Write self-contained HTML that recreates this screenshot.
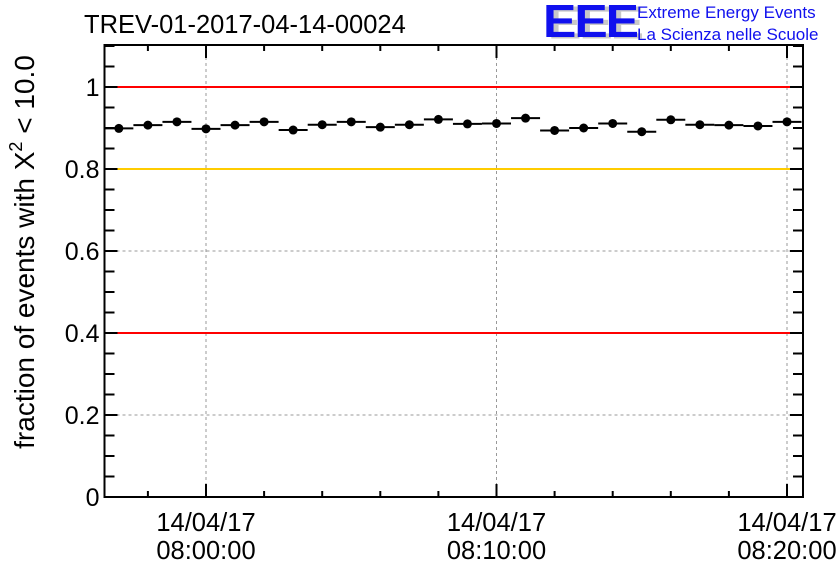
<!DOCTYPE html>
<html><head><meta charset="utf-8"><style>
body{margin:0;background:#fff;}
svg{display:block;font-family:"Liberation Sans",sans-serif;}
</style></head><body>
<svg id="chart" width="836" height="572" viewBox="0 0 836 572">
<rect width="836" height="572" fill="#fff"/>
<text x="84" y="33" font-size="25.5" fill="#000">TREV-01-2017-04-14-00024</text>
<g>
<text x="548" y="42" font-size="50" font-weight="bold" fill="#c8c8c8" letter-spacing="-2" transform="scale(1,0.92)">EEE</text>
<text x="543" y="40" font-size="50" font-weight="bold" fill="#1010ee" letter-spacing="-2" transform="scale(1,0.92)">EEE</text>
<text x="637" y="18" font-size="17" fill="#1010ee">Extreme Energy Events</text>
<text x="637" y="40" font-size="17" fill="#1010ee">La Scienza nelle Scuole</text>
</g>
<text transform="translate(34,252) rotate(-90)" text-anchor="middle" font-size="28" fill="#000">fraction of events with X<tspan dy="-12" font-size="18">2</tspan><tspan dy="12"> &lt; 10.0</tspan></text>
<g id="plot"></g>
</svg>
<script>
const minutes=[-3,-2,-1,0,1,2,3,4,5,6,7,8,9,10,11,12,13,14,15,16,17,18,19,20];
const fractions=[0.899,0.907,0.915,0.898,0.907,0.915,0.895,0.908,0.915,0.902,0.908,0.921,0.910,0.911,0.924,0.894,0.900,0.911,0.891,0.920,0.908,0.907,0.905,0.915];
const yTicks=[0,0.2,0.4,0.6,0.8,1];
const yTickLabels=["0","0.2","0.4","0.6","0.8","1"];
const xMajor=[0,10,20];
const xLabels=["08:00:00","08:10:00","08:20:00"];
const refLines=[1.0,0.8,0.4];
const refColors=["#ff0000","#ffcc00","#ff0000"];

const L=104.5,R=803,T=45,B=497;
const xs=m=>206+m*29.05;
const ys=v=>B-v*410;
const NS="http://www.w3.org/2000/svg";
const g=document.getElementById('plot');
function mk(tag,attrs,parent){const e=document.createElementNS(NS,tag);for(const k in attrs)e.setAttribute(k,attrs[k]);(parent||g).appendChild(e);return e;}

yTicks.slice(1,-1).forEach(v=>{
  if(refLines.includes(v))return;
  const l=mk('line',{x1:L,x2:R,y1:ys(v),y2:ys(v),stroke:'#999','stroke-dasharray':'3,3','stroke-width':1});
  
  
});
xMajor.forEach(m=>{
  const l=mk('line',{x1:xs(m),x2:xs(m),y1:T,y2:B,stroke:'#999','stroke-dasharray':'3,3','stroke-width':1});
  
  
});
refLines.forEach((v,i)=>{
  const l=mk('line',{x1:L,x2:R,y1:ys(v),y2:ys(v),stroke:refColors[i],'stroke-width':2});
  
  
});
minutes.forEach((m,i)=>{
  const x=xs(m),y=ys(fractions[i]);
  const e=mk('line',{x1:x-14.5,x2:x+14.5,y1:y,y2:y,stroke:'#000','stroke-width':2});
  
  
  const c=mk('circle',{cx:x,cy:y,r:4.5,fill:'#000'});
  
  
});
const f=mk('rect',{x:L,y:T,width:R-L,height:B-T,fill:'none',stroke:'#000','stroke-width':2});


for(let k=0;k<=22;k++){
  const v=k*0.05,y=ys(v);
  const len=(k%4===0)?13:10;
  mk('line',{x1:L,x2:L+len,y1:y,y2:y,stroke:'#000','stroke-width':2});
  mk('line',{x1:R,x2:R-len,y1:y,y2:y,stroke:'#000','stroke-width':2});
}
yTicks.forEach((v,i)=>{
  const t=mk('text',{x:L-5,y:ys(v)+9,'text-anchor':'end','font-size':25,fill:'#000'});
  t.textContent=yTickLabels[i];
  
  
});
for(let m=-2;m<=20;m+=2){
  const x=xs(m),len=(m%10===0)?13:6;
  mk('line',{x1:x,x2:x,y1:B,y2:B-len,stroke:'#000','stroke-width':2});
  mk('line',{x1:x,x2:x,y1:T,y2:T+len,stroke:'#000','stroke-width':2});
}
xMajor.forEach((m,i)=>{
  const t1=mk('text',{x:xs(m),y:531,'text-anchor':'middle','font-size':25.5,fill:'#000'});
  t1.textContent='14/04/17';
  
  
  const t2=mk('text',{x:xs(m),y:559,'text-anchor':'middle','font-size':25.5,fill:'#000'});
  t2.textContent=xLabels[i];
  
  
});
</script>
</body></html>
